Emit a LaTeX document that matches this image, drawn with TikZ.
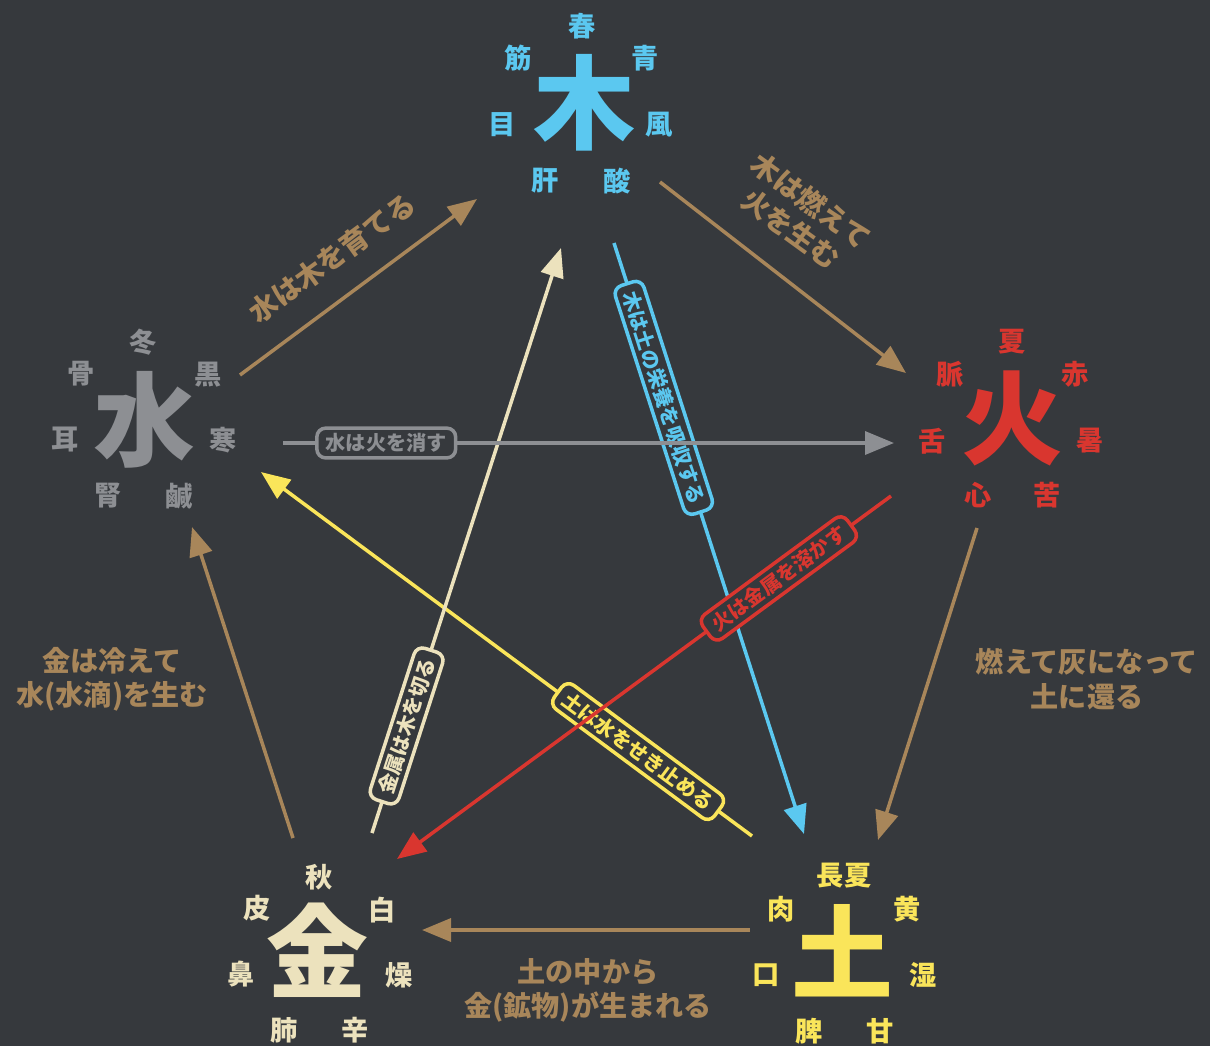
\documentclass[tikz,border=0pt]{standalone}
\usepackage{fontspec}
\setmainfont{Noto Sans CJK JP}
\usetikzlibrary{arrows.meta}

\definecolor{bgdark}{HTML}{36393D}
\definecolor{cycletan}{HTML}{A8865A}
\definecolor{mokublue}{HTML}{5BC8F0}
\definecolor{kared}{HTML}{D9362F}
\definecolor{suigrey}{HTML}{8D8F93}
\definecolor{goncream}{HTML}{ECE2BD}
\definecolor{doyellow}{HTML}{FAE55A}

\begin{document}
\begin{tikzpicture}[
    x=0.02cm, y=-0.02cm,
    big/.style={inner sep=0pt, font=\fontsize{58}{58}\selectfont\bfseries},
    sat/.style={inner sep=0pt, font=\fontsize{15.5}{15.5}\selectfont\bfseries},
    note/.style={inner sep=0pt, text=cycletan, align=center, font=\fontsize{16}{19.5}\selectfont\bfseries},
    flow/.style={line width=2pt, -{Triangle[length=0.58cm, width=0.46cm]}},
    tag/.style={draw, line width=2pt, rounded corners=5pt, fill=bgdark, sloped, inner xsep=5pt, inner ysep=3pt, font=\fontsize{11.5}{11.5}\selectfont\bfseries}
]
    % Background
    \fill[bgdark] (0,0) rectangle (1210,1046);
    \useasboundingbox (0,0) rectangle (1210,1046);

    % Wood
    \node[big, text=mokublue] (moku) at (584,103) {木};
    \node[sat, text=mokublue] (moku-season) at (582,26) {春};
    \node[sat, text=mokublue] (moku-colour) at (645,58) {青};
    \node[sat, text=mokublue] (moku-climate) at (659,125) {風};
    \node[sat, text=mokublue] (moku-taste) at (617,181) {酸};
    \node[sat, text=mokublue] (moku-organ) at (545,181) {肝};
    \node[sat, text=mokublue] (moku-sense) at (502,125) {目};
    \node[sat, text=mokublue] (moku-tissue) at (518,58) {筋};

    % Fire
    \node[big, text=kared] (ka) at (1012,418) {火};
    \node[sat, text=kared] (ka-season) at (1012,342) {夏};
    \node[sat, text=kared] (ka-colour) at (1075,374) {赤};
    \node[sat, text=kared] (ka-climate) at (1090,441) {暑};
    \node[sat, text=kared] (ka-taste) at (1047,495) {苦};
    \node[sat, text=kared] (ka-organ) at (978,495) {心};
    \node[sat, text=kared] (ka-sense) at (932,441) {舌};
    \node[sat, text=kared] (ka-tissue) at (950,374) {脈};

    % Water
    \node[big, text=suigrey] (sui) at (144,420) {水};
    \node[sat, text=suigrey] (sui-season) at (143,342) {冬};
    \node[sat, text=suigrey] (sui-colour) at (208,375) {黒};
    \node[sat, text=suigrey] (sui-climate) at (223,440) {寒};
    \node[sat, text=suigrey] (sui-taste) at (179,496) {鹹};
    \node[sat, text=suigrey] (sui-organ) at (108,496) {腎};
    \node[sat, text=suigrey] (sui-sense) at (65,440) {耳};
    \node[sat, text=suigrey] (sui-tissue) at (81,374) {骨};

    % Metal
    \node[big, text=goncream] (gon) at (317,950) {金};
    \node[sat, text=goncream] (gon-season) at (319,877) {秋};
    \node[sat, text=goncream] (gon-colour) at (382,910) {白};
    \node[sat, text=goncream] (gon-climate) at (399,975) {燥};
    \node[sat, text=goncream] (gon-taste) at (355,1030) {辛};
    \node[sat, text=goncream] (gon-organ) at (284,1030) {肺};
    \node[sat, text=goncream] (gon-sense) at (241,974) {鼻};
    \node[sat, text=goncream] (gon-tissue) at (257,908) {皮};

    % Earth
    \node[big, text=doyellow] (do) at (842,951) {土};
    \node[sat, text=doyellow] (do-season) at (844,876) {長夏};
    \node[sat, text=doyellow] (do-colour) at (907,909) {黄};
    \node[sat, text=doyellow] (do-climate) at (923,975) {湿};
    \node[sat, text=doyellow] (do-taste) at (880,1031) {甘};
    \node[sat, text=doyellow] (do-organ) at (809,1031) {脾};
    \node[sat, text=doyellow] (do-sense) at (766,975) {口};
    \node[sat, text=doyellow] (do-tissue) at (781,909) {肉};

    % Connector ends
    \coordinate (sui-a) at (240,375);   \coordinate (moku-a) at (477,199);
    \coordinate (moku-b) at (660,182);  \coordinate (ka-b) at (906,373);
    \coordinate (ka-c) at (977,528);    \coordinate (do-c) at (878,840);
    \coordinate (do-d) at (750,930);    \coordinate (gon-d) at (422,930);
    \coordinate (gon-e) at (293,838);   \coordinate (sui-e) at (192,527);
    \coordinate (sui-f) at (283,443);   \coordinate (ka-f) at (894,443);
    \coordinate (moku-g) at (614,243);  \coordinate (do-g) at (804,834);
    \coordinate (ka-h) at (891,496);    \coordinate (gon-h) at (397,859);
    \coordinate (do-i) at (752,836);    \coordinate (sui-i) at (261,472);
    \coordinate (gon-j) at (372,833);   \coordinate (moku-j) at (561,248);

    % Generating cycle
    \draw[flow, cycletan] (sui-a) -- (moku-a);
    \draw[flow, cycletan] (moku-b) -- (ka-b);
    \draw[flow, cycletan] (ka-c) -- (do-c);
    \draw[flow, cycletan] (do-d) -- (gon-d);
    \draw[flow, cycletan] (gon-e) -- (sui-e);

    \node[note, rotate=36] (sui-moku) at (332,258) {水は木を育てる};
    \node[note, rotate=-36] (moku-ka) at (801,215) {木は燃えて\\火を生む};
    \node[note] (ka-do) at (1087,679) {燃えて灰になって\\土に還る};
    \node[note] (do-gon) at (588,990) {土の中から\\金(鉱物)が生まれる};
    \node[note] (gon-sui) at (112,679) {金は冷えて\\水(水滴)を生む};

    % Controlling cycle
    \draw[flow, doyellow] (do-i) -- node[tag, pos=0.232] (do-sui) {土は水をせき止める} (sui-i);
    \draw[flow, goncream] (gon-j) -- node[tag, pos=0.183] (gon-moku) {金属は木を切る} (moku-j);
    \draw[flow, mokublue] (moku-g) -- node[tag, pos=0.262] (moku-do) {木は土の栄養を吸収する} (do-g);
    \draw[flow, suigrey] (sui-f) -- node[tag, pos=0.169] (sui-ka) {水は火を消す} (ka-f);
    \draw[flow, kared] (ka-h) -- node[tag, pos=0.227] (ka-gon) {火は金属を溶かす} (gon-h);

\end{tikzpicture}
\end{document}
